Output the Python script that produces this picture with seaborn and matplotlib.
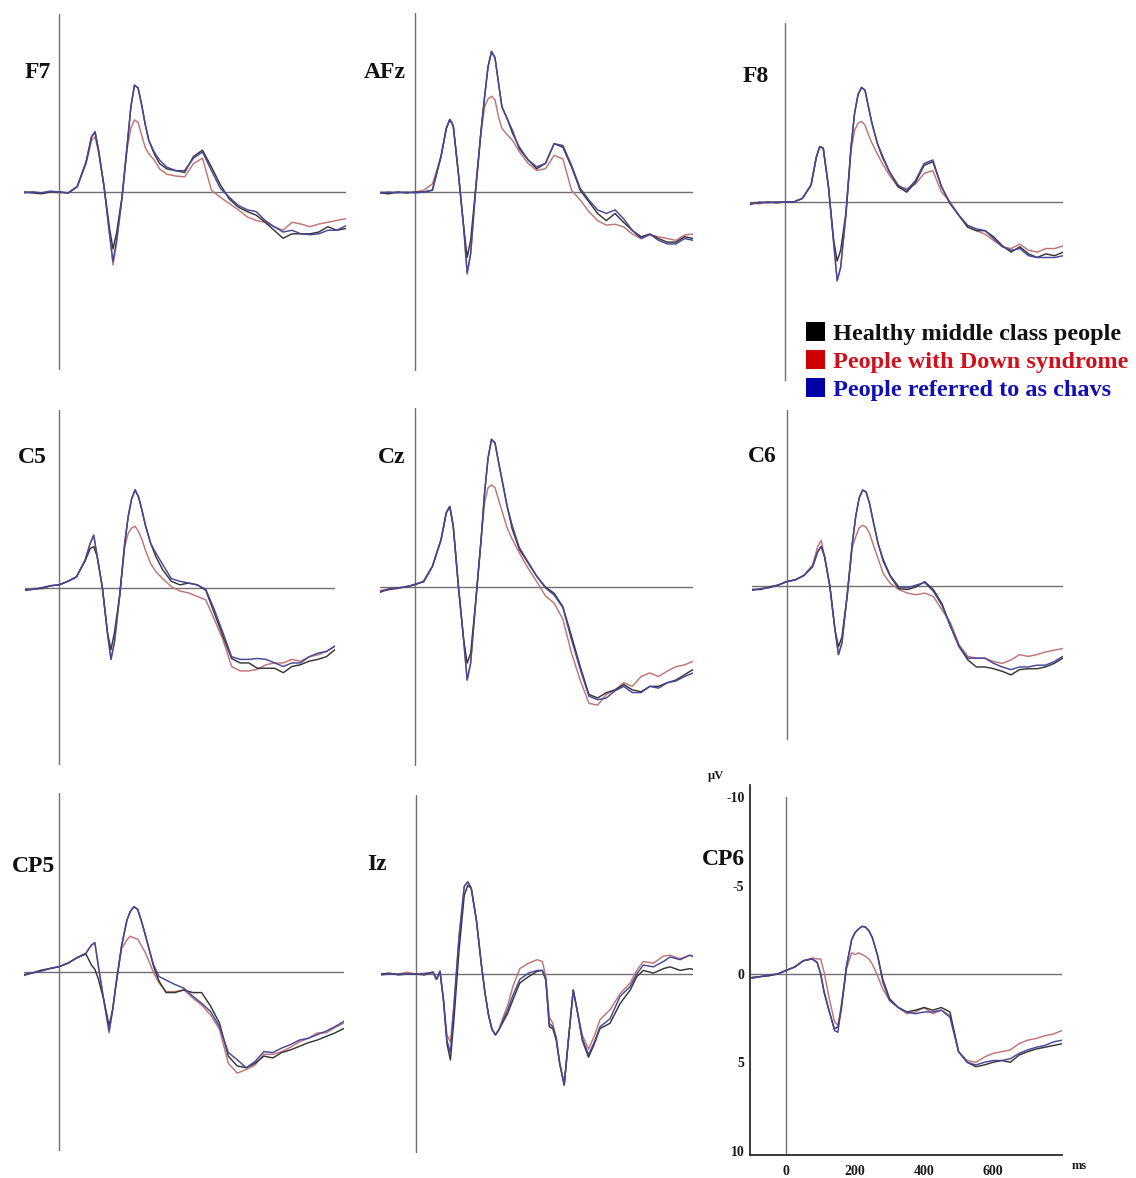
import matplotlib
matplotlib.use("Agg")
import matplotlib.pyplot as plt
from matplotlib.patches import Rectangle
import pandas as pd
import seaborn as sns

# ---------------------------------------------------------------- data (µV, negative up)
TIMES = [-100, -75, -50, -25, 0, 25, 50, 75, 90, 100, 110, 125, 140, 150, 160,
         175, 190, 200, 210, 220, 230, 240, 250, 265, 280, 300, 325, 350, 375,
         400, 425, 450, 475, 500, 525, 550, 575, 600, 625, 650, 675, 700, 725,
         750, 775, 800]
IZ_TIMES = [-100, -75, -50, -25, 0, 25, 50, 60, 70, 80, 90, 100, 110, 125, 140,
            150, 160, 175, 190, 200, 210, 220, 230, 240, 250, 265, 280, 300, 325,
            350, 365, 375, 385, 395, 405, 415, 428, 440, 454, 465, 480, 498, 515,
            531, 560, 589, 618, 637, 656, 685, 714, 733, 762, 790, 800]

F7_HEALTHY = [0.0, 0.05, 0.1, 0.0, 0.0, 0.05, -0.3, -1.7, -3.1, -3.35, -2.3, -0.3, 2.0, 3.2, 2.3,
              0.3, -2.7, -4.8, -6.0, -5.85, -4.9, -3.8, -2.9, -2.15, -1.6, -1.3, -1.2, -1.1, -2.0,
              -2.35, -1.4, -0.4, 0.4, 0.85, 1.1, 1.3, 1.7, 2.15, 2.6, 2.35, 2.35, 2.35, 2.25,
              1.95, 2.15, 2.05]
F7_DOWN = [0.0, 0.0, 0.05, 0.0, 0.05, 0.05, -0.3, -1.6, -2.9, -3.1, -2.2, -0.3, 2.3, 4.1, 2.9,
           0.4, -2.5, -3.6, -4.05, -3.9, -3.2, -2.5, -2.15, -1.8, -1.3, -1.0, -0.9, -0.85, -1.6,
           -1.9, -0.1, 0.3, 0.65, 1.0, 1.4, 1.6, 1.7, 1.95, 2.15, 1.7, 1.8, 1.95, 1.8,
           1.7, 1.6, 1.5]
F7_CHAVS = [0.05, 0.0, 0.05, -0.05, 0.0, 0.05, -0.3, -1.7, -3.1, -3.4, -2.3, -0.3, 2.3, 3.9, 2.7,
            0.35, -2.7, -4.8, -6.0, -5.85, -4.9, -3.8, -2.9, -2.25, -1.8, -1.4, -1.2, -1.2, -1.9,
            -2.25, -1.2, -0.2, 0.3, 0.75, 1.0, 1.1, 1.6, 1.95, 2.25, 2.15, 2.35, 2.4, 2.35,
            2.15, 2.15, 1.9]

AFZ_HEALTHY = [0.05, 0.1, 0.0, 0.05, 0.0, 0.0, -0.1, -2.0, -3.55, -4.05, -3.7, -1.0, 1.95, 3.65, 2.7,
               -0.3, -3.45, -5.3, -7.0, -7.85, -7.5, -6.1, -4.75, -4.1, -3.3, -2.5, -1.8, -1.3, -1.6,
               -2.7, -2.5, -1.4, -0.1, 0.55, 1.2, 1.6, 1.2, 1.7, 2.15, 2.5, 2.35, 2.6, 2.8,
               2.8, 2.5, 2.6]
AFZ_DOWN = [0.0, 0.05, 0.0, 0.05, 0.0, -0.1, -0.45, -2.0, -3.55, -4.05, -3.7, -1.0, 2.0, 4.6, 3.45,
            -0.2, -3.35, -4.75, -5.2, -5.35, -5.15, -4.2, -3.55, -3.2, -2.9, -2.25, -1.6, -1.2, -1.3,
            -2.05, -1.85, -0.1, 0.45, 1.1, 1.6, 1.85, 1.8, 1.95, 2.35, 2.6, 2.4, 2.5, 2.6,
            2.7, 2.4, 2.35]
AFZ_CHAVS = [0.05, 0.0, 0.05, 0.0, 0.05, 0.0, -0.1, -2.0, -3.55, -4.05, -3.7, -1.0, 2.0, 4.5, 3.45,
             -0.3, -3.45, -5.3, -7.0, -7.85, -7.5, -6.1, -4.75, -4.1, -3.45, -2.4, -1.8, -1.4, -1.6,
             -2.7, -2.6, -1.5, -0.2, 0.45, 1.0, 1.2, 1.0, 1.5, 2.15, 2.6, 2.35, 2.7, 2.9,
             2.9, 2.6, 2.7]

F8_HEALTHY = [0.1, 0.05, 0.0, 0.05, 0.0, 0.0, -0.2, -0.95, -2.5, -3.1, -3.0, -0.85, 2.15, 3.3, 2.7,
              0.65, -3.1, -4.95, -6.0, -6.4, -6.25, -5.3, -4.4, -3.3, -2.5, -1.7, -0.85, -0.55, -1.1,
              -2.05, -2.25, -0.85, 0.1, 0.75, 1.4, 1.6, 1.6, 1.95, 2.45, 2.8, 2.5, 2.9, 3.1,
              2.9, 3.0, 2.8]
F8_DOWN = [0.05, 0.1, 0.0, 0.0, 0.0, 0.0, -0.2, -0.95, -2.5, -3.1, -3.0, -0.85, 2.3, 4.4, 3.65,
           0.8, -2.9, -4.0, -4.4, -4.5, -4.3, -3.75, -3.3, -2.7, -2.15, -1.5, -0.85, -0.75, -1.0,
           -1.6, -1.75, -0.55, 0.0, 0.75, 1.4, 1.6, 1.8, 2.15, 2.5, 2.6, 2.35, 2.7, 2.8,
           2.6, 2.6, 2.45]
F8_CHAVS = [0.15, 0.0, 0.05, 0.0, 0.0, 0.0, -0.2, -0.95, -2.5, -3.1, -3.0, -0.85, 2.3, 4.4, 3.65,
            0.7, -3.1, -4.95, -6.0, -6.4, -6.25, -5.3, -4.4, -3.3, -2.6, -1.7, -0.95, -0.65, -1.2,
            -2.15, -2.35, -0.85, 0.1, 0.75, 1.3, 1.5, 1.6, 2.05, 2.5, 2.7, 2.6, 3.0, 3.1,
            3.1, 3.1, 3.0]

C5_HEALTHY = [0.15, 0.1, 0.05, -0.1, -0.15, -0.35, -0.6, -1.5, -2.2, -2.3, -1.75, 0.0, 2.55, 3.5, 2.55,
              0.5, -2.5, -4.0, -5.0, -5.5, -5.1, -4.35, -3.5, -2.5, -1.75, -1.0, -0.35, -0.15, -0.25,
              -0.15, 0.15, 1.45, 2.75, 4.0, 4.25, 4.25, 4.55, 4.55, 4.55, 4.8, 4.45, 4.35, 4.15,
              4.05, 3.9, 3.5]
C5_DOWN = [0.15, 0.05, 0.05, -0.1, -0.15, -0.35, -0.6, -1.55, -2.5, -2.95, -1.75, 0.0, 2.6, 4.05, 3.1,
           0.5, -2.3, -3.05, -3.35, -3.45, -3.15, -2.7, -2.1, -1.35, -0.9, -0.5, -0.05, 0.2, 0.3,
           0.5, 0.7, 1.8, 2.95, 4.45, 4.7, 4.7, 4.6, 4.35, 4.25, 4.25, 4.05, 4.15, 3.9,
           3.8, 3.6, 3.3]
C5_CHAVS = [0.15, 0.1, 0.0, -0.1, -0.15, -0.35, -0.6, -1.55, -2.5, -2.95, -1.75, 0.0, 2.6, 4.05, 3.1,
            0.5, -2.5, -4.0, -5.0, -5.5, -5.1, -4.35, -3.5, -2.5, -1.95, -1.3, -0.5, -0.35, -0.25,
            -0.15, 0.1, 1.25, 2.55, 3.9, 4.05, 4.05, 4.0, 4.05, 4.25, 4.45, 4.25, 4.25, 3.9,
            3.7, 3.6, 3.3]

CZ_HEALTHY = [0.25, 0.15, 0.05, 0.0, -0.15, -0.3, -1.15, -2.65, -4.15, -4.5, -3.4, 0.0, 2.95, 4.25, 3.7,
              0.7, -2.65, -5.25, -7.2, -8.25, -8.05, -7.0, -6.0, -4.5, -3.2, -2.1, -1.35, -0.6, 0.0,
              0.35, 1.1, 2.75, 4.45, 6.0, 6.2, 5.9, 5.75, 5.45, 5.75, 5.85, 5.55, 5.55, 5.35,
              5.2, 4.9, 4.6]
CZ_DOWN = [0.2, 0.1, 0.1, -0.05, -0.1, -0.35, -1.15, -2.65, -4.15, -4.5, -3.4, 0.0, 3.0, 5.2, 4.25,
           0.8, -2.6, -4.7, -5.55, -5.7, -5.55, -4.9, -4.25, -3.3, -2.65, -1.9, -1.05, -0.3, 0.5,
           0.9, 1.8, 3.7, 5.2, 6.5, 6.6, 6.0, 5.75, 5.35, 5.55, 5.0, 4.8, 5.0, 4.7,
           4.45, 4.35, 4.15]
CZ_CHAVS = [0.3, 0.1, 0.05, 0.0, -0.15, -0.3, -1.15, -2.65, -4.15, -4.5, -3.4, 0.0, 3.0, 5.2, 4.25,
            0.7, -2.65, -5.25, -7.2, -8.25, -8.05, -7.0, -6.0, -4.5, -3.4, -2.2, -1.4, -0.6, 0.05,
            0.45, 1.15, 2.95, 4.6, 6.1, 6.3, 6.2, 5.8, 5.55, 5.9, 5.9, 5.55, 5.65, 5.35,
            5.25, 5.0, 4.8]

C6_HEALTHY = [0.2, 0.2, 0.05, -0.05, -0.25, -0.35, -0.6, -1.1, -1.95, -2.25, -1.65, 0.0, 2.5, 3.45, 2.9,
              0.6, -2.4, -3.95, -5.0, -5.45, -5.35, -4.7, -3.75, -2.4, -1.4, -0.55, 0.15, 0.2, 0.05,
              -0.25, 0.2, 1.0, 2.3, 3.45, 4.2, 4.6, 4.6, 4.7, 4.85, 5.05, 4.75, 4.7, 4.7,
              4.6, 4.4, 4.1]
C6_DOWN = [0.2, 0.15, 0.05, -0.05, -0.25, -0.35, -0.6, -1.2, -2.25, -2.6, -1.65, 0.0, 2.5, 3.9, 3.25,
           0.6, -2.2, -2.8, -3.3, -3.45, -3.35, -3.0, -2.4, -1.55, -0.7, -0.15, 0.2, 0.4, 0.5,
           0.4, 0.6, 1.35, 2.1, 3.35, 4.0, 4.1, 4.1, 4.3, 4.4, 4.2, 3.9, 4.0, 3.9,
           3.75, 3.65, 3.55]
C6_CHAVS = [0.25, 0.15, 0.1, -0.05, -0.25, -0.35, -0.6, -1.1, -1.95, -2.25, -1.65, 0.0, 2.5, 3.9, 3.25,
            0.6, -2.4, -3.95, -5.0, -5.45, -5.35, -4.7, -3.75, -2.4, -1.5, -0.6, 0.05, 0.1, -0.05,
            -0.2, 0.3, 1.1, 2.3, 3.45, 4.1, 4.1, 4.1, 4.4, 4.6, 4.75, 4.6, 4.6, 4.5,
            4.5, 4.3, 4.0]

CP5_HEALTHY = [0.15, 0.05, -0.1, -0.2, -0.3, -0.5, -0.8, -1.0, -0.4, -0.15, 0.4, 1.55, 3.0, 2.1, 0.6,
               -1.45, -2.9, -3.4, -3.65, -3.5, -2.9, -2.2, -1.45, -0.3, 0.5, 1.15, 1.15, 1.0, 1.15,
               1.15, 1.9, 2.85, 4.7, 5.25, 5.35, 5.1, 4.7, 4.8, 4.5, 4.35, 4.15, 3.95, 3.8,
               3.6, 3.4, 3.15]
CP5_DOWN = [0.15, 0.05, -0.1, -0.2, -0.3, -0.5, -0.8, -1.05, -1.5, -1.6, -0.3, 1.6, 3.4, 2.1, 0.6,
            -1.3, -1.8, -2.0, -1.9, -1.85, -1.5, -1.15, -0.7, 0.05, 0.6, 1.1, 1.1, 1.0, 1.45,
            1.85, 2.4, 3.2, 5.1, 5.65, 5.45, 5.2, 4.6, 4.6, 4.45, 4.2, 3.9, 3.7, 3.4,
            3.4, 3.1, 2.85]
CP5_CHAVS = [0.2, 0.05, -0.05, -0.2, -0.3, -0.5, -0.8, -1.05, -1.5, -1.65, -0.3, 1.55, 3.3, 2.1, 0.6,
             -1.45, -2.9, -3.4, -3.65, -3.5, -2.9, -2.2, -1.45, -0.4, 0.25, 0.45, 0.7, 0.9, 1.35,
             1.75, 2.2, 3.05, 4.5, 4.9, 5.35, 5.0, 4.45, 4.5, 4.25, 4.05, 3.8, 3.7, 3.5,
             3.3, 3.05, 2.75]

IZ_HEALTHY = [0.0, -0.05, 0.05, 0.0, 0.0, 0.05, -0.1, 0.3, -0.15, 1.45, 3.9, 4.8, 2.6, -1.35, -4.4,
              -4.95, -4.8, -3.0, -0.4, 1.1, 2.3, 3.1, 3.4, 3.1, 2.75, 2.2, 1.45, 0.5, 0.15,
              -0.15, -0.2, 0.35, 2.95, 3.05, 3.7, 5.0, 6.2, 3.7, 0.9, 2.0, 3.7, 4.65, 3.9,
              3.05, 2.75, 1.65, 0.9, 0.15, -0.2, -0.05, -0.3, -0.4, -0.2, -0.3, -0.25]
IZ_DOWN = [0.0, 0.0, 0.0, -0.1, 0.0, -0.05, -0.1, 0.3, -0.15, 1.45, 3.4, 3.8, 1.8, -2.1, -4.9,
           -5.15, -4.8, -3.0, -0.4, 1.1, 2.3, 3.1, 3.4, 3.1, 2.5, 1.75, 0.7, -0.3, -0.6,
           -0.8, -0.7, 0.15, 2.4, 2.75, 3.6, 5.0, 6.2, 3.7, 0.9, 2.0, 3.4, 4.2, 3.45,
           2.55, 2.0, 1.1, 0.5, -0.2, -0.7, -0.6, -1.0, -1.05, -0.85, -1.05, -0.95]
IZ_CHAVS = [0.05, 0.0, 0.0, 0.0, 0.0, 0.0, -0.1, 0.3, -0.15, 1.45, 3.7, 4.4, 1.8, -2.1, -4.9,
            -5.15, -4.8, -3.0, -0.4, 1.1, 2.3, 3.1, 3.4, 3.1, 2.65, 2.0, 1.2, 0.3, -0.05,
            -0.2, -0.2, 0.3, 2.75, 2.95, 3.55, 5.0, 6.2, 3.7, 0.9, 2.0, 3.6, 4.5, 3.8,
            2.95, 2.5, 1.25, 0.7, 0.0, -0.5, -0.4, -0.7, -0.95, -0.8, -1.05, -1.0]

CP6_HEALTHY = [0.2, 0.15, 0.1, 0.0, -0.2, -0.4, -0.75, -0.85, -0.65, 0.0, 1.05, 2.15, 3.1, 3.0, 2.0,
               -0.45, -1.95, -2.35, -2.55, -2.7, -2.65, -2.45, -2.05, -1.05, 0.3, 1.4, 1.9, 2.15, 2.05,
               1.9, 2.05, 1.9, 2.15, 4.4, 5.0, 5.25, 5.15, 5.0, 4.9, 5.0, 4.6, 4.4, 4.25,
               4.15, 4.05, 3.95]
CP6_DOWN = [0.2, 0.15, 0.1, 0.0, -0.2, -0.4, -0.75, -0.9, -0.85, -0.85, -0.1, 1.4, 2.7, 2.9, 1.8,
            -0.3, -1.2, -1.1, -1.2, -1.1, -1.0, -0.85, -0.55, 0.1, 0.85, 1.5, 1.9, 2.25, 2.15,
            1.9, 2.25, 2.05, 2.35, 4.4, 4.9, 5.0, 4.7, 4.5, 4.4, 4.3, 3.95, 3.75, 3.65,
            3.5, 3.4, 3.2]
CP6_CHAVS = [0.25, 0.15, 0.05, 0.0, -0.2, -0.4, -0.75, -0.85, -0.65, 0.0, 1.0, 2.1, 3.2, 3.3, 1.8,
             -0.45, -1.95, -2.35, -2.55, -2.7, -2.65, -2.45, -2.05, -1.05, 0.45, 1.5, 1.9, 2.15, 2.25,
             2.15, 2.15, 2.05, 2.45, 4.4, 5.0, 5.15, 5.0, 4.9, 4.9, 4.8, 4.5, 4.3, 4.15,
             4.05, 3.85, 3.75]

GROUPS = ["Healthy middle class people", "People with Down syndrome",
          "People referred to as chavs"]
LINE_COLORS = {GROUPS[0]: "#363636", GROUPS[1]: "#c27474", GROUPS[2]: "#47479a"}
KEY_COLORS = ["#000000", "#d00000", "#0000a8"]
TEXT_COLORS = ["#111111", "#d0101a", "#1010b4"]

# ---------------------------------------------------------------- style
sns.set_style("white")
plt.rcParams["font.family"] = ["Liberation Serif", "DejaVu Serif"]

W, H = 1136, 1178
fig = plt.figure(figsize=(W / 100, H / 100), dpi=100)
fig.patch.set_facecolor("white")


def box(left, right, top, bottom):
    """Axes rectangle from pixel edges (origin at top-left)."""
    return [left / W, 1 - bottom / H, (right - left) / W, (bottom - top) / H]


def fig_xy(x, y):
    return x / W, 1 - y / H


REF_COLOR = "#707070"

# name, times, series, axes box, label position, vertical-line lower fraction
panels = [
    ("F7", TIMES, (F7_HEALTHY, F7_DOWN, F7_CHAVS), (23.5, 345.7, 14, 370), (25, 78), 0.0),
    ("AFz", TIMES, (AFZ_HEALTHY, AFZ_DOWN, AFZ_CHAVS), (380.2, 693.3, 13, 371), (364, 78), 0.0),
    ("F8", TIMES, (F8_HEALTHY, F8_DOWN, F8_CHAVS), (750.2, 1063.3, 23, 381), (743, 82), 0.0),
    ("C5", TIMES, (C5_HEALTHY, C5_DOWN, C5_CHAVS), (24.8, 335.0, 410, 765), (18, 463), 0.0),
    ("Cz", TIMES, (CZ_HEALTHY, CZ_DOWN, CZ_CHAVS), (380.2, 693.3, 408, 766), (378, 463), 0.0),
    ("C6", TIMES, (C6_HEALTHY, C6_DOWN, C6_CHAVS), (752.2, 1062.7, 410, 762), (748, 462), 0.065),
    ("CP5", TIMES, (CP5_HEALTHY, CP5_DOWN, CP5_CHAVS), (23.7, 344.0, 793, 1151), (12, 872), 0.0),
    ("Iz", IZ_TIMES, (IZ_HEALTHY, IZ_DOWN, IZ_CHAVS), (381.0, 693.3, 795, 1153), (367, 870), 0.0),
]

draw_order = [GROUPS[1], GROUPS[0], GROUPS[2]]


def draw_waves(ax, times, series):
    frame = pd.concat(
        [pd.DataFrame({"time": times, "amplitude": vals, "group": g})
         for g, vals in zip(GROUPS, series)],
        ignore_index=True,
    )
    sns.lineplot(data=frame, x="time", y="amplitude", hue="group",
                 hue_order=draw_order, palette=LINE_COLORS, estimator=None,
                 linewidth=1.05, legend=False, ax=ax)
    ax.set_xlabel("")
    ax.set_ylabel("")


label_font = dict(fontsize=17, fontweight="bold", color="#111111",
                  ha="left", va="baseline")

for name, times, series, (l, r, t, b), (lx, ly), vmin in panels:
    ax = fig.add_axes(box(l, r, t, b))
    ax.set_xlim(-100, 800)
    ax.set_ylim(10, -10)
    ax.axhline(0, color=REF_COLOR, lw=1.0, zorder=1)
    ax.axvline(0, ymin=vmin, ymax=1, color=REF_COLOR, lw=1.0, zorder=1)
    draw_waves(ax, times, series)
    ax.set_axis_off()
    fig.text(*fig_xy(lx, ly), name, **label_font)

# ---------------------------------------------------------------- CP6 with its scale
ax = fig.add_axes(box(750, 1062, 785, 1155))
ax.set_xlim(-105, 800)
ax.set_ylim(10.25, -10.7)
ax.axhline(0, color=REF_COLOR, lw=1.0, zorder=1)
ax.axvline(0, ymin=0, ymax=(10.25 + 10) / (10.25 + 10.7), color=REF_COLOR, lw=1.0, zorder=1)
draw_waves(ax, TIMES, (CP6_HEALTHY, CP6_DOWN, CP6_CHAVS))
for side in ("top", "right"):
    ax.spines[side].set_visible(False)
for side in ("left", "bottom"):
    ax.spines[side].set_visible(True)
    ax.spines[side].set_color("#2a2a2a")
    ax.spines[side].set_linewidth(1.3)
ax.set_yticks([-10, -5, 0, 5, 10])
ax.set_yticklabels(["-10", "-5", "0", "5", "10"])
ax.set_xticks([0, 200, 400, 600, 800])
ax.set_xticklabels(["0", "200", "400", "600", ""])
ax.tick_params(axis="both", direction="in", length=6, width=1.3, color="#2a2a2a",
               labelsize=10, labelcolor="#1a1a1a")
ax.tick_params(axis="y", pad=4)
ax.tick_params(axis="x", pad=7)
for lab in ax.get_xticklabels() + ax.get_yticklabels():
    lab.set_fontweight("bold")
fig.text(*fig_xy(708, 779), "µV", fontsize=9, fontweight="bold", color="#1a1a1a")
fig.text(*fig_xy(1072, 1169), "ms", fontsize=9, fontweight="bold", color="#1a1a1a")
fig.text(*fig_xy(702, 865), "CP6", **label_font)

# ---------------------------------------------------------------- group key
key_rows = [(322, 340), (350, 368), (378, 396)]  # square top, text baseline
for (sq_top, base), label, kc, tc in zip(key_rows, GROUPS, KEY_COLORS, TEXT_COLORS):
    fig.add_artist(Rectangle(fig_xy(806, sq_top + 19), 19 / W, 19 / H,
                             transform=fig.transFigure, facecolor=kc,
                             edgecolor="none"))
    fig.text(*fig_xy(833, base), label, fontsize=17.5, fontweight="bold",
             color=tc, ha="left", va="baseline")

fig.savefig("out.png", dpi=100, facecolor="white")
